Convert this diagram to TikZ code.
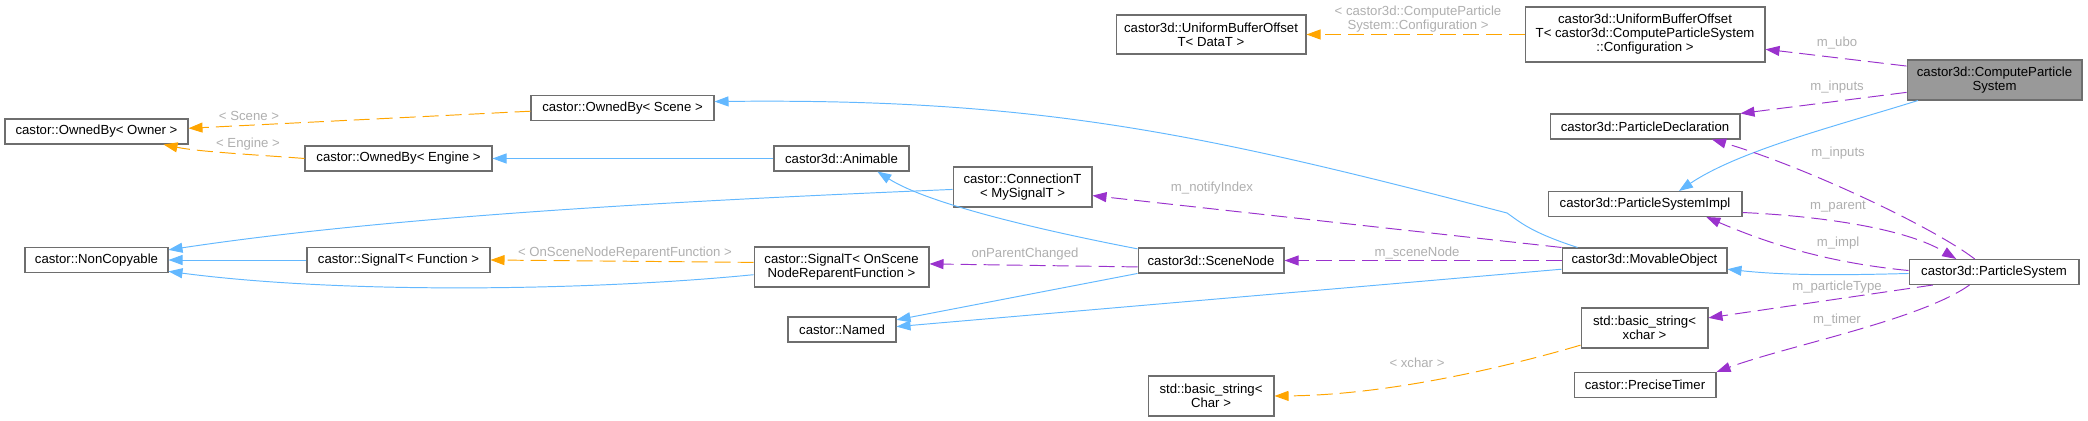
\documentclass[tikz,border=0pt]{standalone}
\usepackage{xcolor}
\usepackage{fontspec}
\setmainfont{Liberation Sans}
\usepackage{tikz}
\usetikzlibrary{arrows.meta}
\definecolor{inhblue}{RGB}{99,184,255}
\definecolor{usepurple}{RGB}{154,50,205}
\definecolor{tmplorange}{RGB}{255,165,0}
\definecolor{boxgray}{RGB}{110,110,110}
\definecolor{lblgray}{RGB}{175,175,175}
\definecolor{curfill}{RGB}{153,153,153}

\begin{document}
\begin{tikzpicture}[x=0.02cm, y=-0.02cm, font=\fontsize{7.5}{8}\selectfont,
  cls/.style={draw=boxgray, line width=0.6pt, fill=white, inner sep=0pt, minimum height=0.5cm, align=center},
  inherit/.style={draw=inhblue, line width=0.55pt, -{Triangle[length=0.28cm, width=0.2cm]}},
  member/.style={draw=usepurple, line width=0.55pt, dash pattern=on 0.32cm off 0.14cm, -{Triangle[length=0.28cm, width=0.2cm]}},
  tmpl/.style={draw=tmplorange, line width=0.55pt, dash pattern=on 0.32cm off 0.14cm, -{Triangle[length=0.28cm, width=0.2cm]}},
  edgelabel/.style={text=lblgray, inner sep=0pt, align=center}]
  \useasboundingbox (0,0) rectangle (2088,421);
  % Column 1
  \node[cls, minimum width=3.66cm] (ownOwner) at (96.5,131.5) {castor::OwnedBy< Owner >};
  \node[cls, minimum width=2.86cm] (nonCopy) at (96.5,260) {castor::NonCopyable};
  % Column 2
  \node[cls, minimum width=3.74cm] (ownEngine) at (398.5,158.5) {castor::OwnedBy< Engine >};
  \node[cls, minimum width=3.66cm] (sigFunc) at (398.5,260) {castor::SignalT< Function >};
  % Column 3
  \node[cls, minimum width=3.66cm] (ownScene) at (622.5,108) {castor::OwnedBy< Scene >};
  \node[cls, minimum width=2.7cm] (animable) at (841.5,158.5) {castor3d::Animable};
  \node[cls, minimum width=3.5cm, minimum height=0.8cm] (sigScene) at (841.5,267) {castor::SignalT< OnScene\\NodeReparentFunction >};
  \node[cls, minimum width=2.16cm] (named) at (842,329.5) {castor::Named};
  % Column 4
  \node[cls, minimum width=2.78cm, minimum height=0.8cm] (connT) at (1022.5,187) {castor::ConnectionT\\< MySignalT >};
  % Column 5
  \node[cls, minimum width=3.8cm, minimum height=0.78cm] (uboData) at (1211,34.5) {castor3d::UniformBufferOffset\\T< DataT >};
  \node[cls, minimum width=2.92cm] (sceneNode) at (1211,260.5) {castor3d::SceneNode};
  \node[cls, minimum width=2.52cm, minimum height=0.8cm] (strChar) at (1211,396) {std::basic\_string<\\Char >};
  % Column 6
  \node[cls, minimum width=4.8cm, minimum height=1.1cm] (uboConf) at (1645,34.5) {castor3d::UniformBufferOffset\\T< castor3d::ComputeParticleSystem\\::Configuration >};
  \node[cls, minimum width=3.8cm] (partDecl) at (1645,126.5) {castor3d::ParticleDeclaration};
  \node[cls, minimum width=3.88cm] (psImpl) at (1645,204) {castor3d::ParticleSystemImpl};
  \node[cls, minimum width=3.3cm] (movable) at (1644.5,260.5) {castor3d::MovableObject};
  \node[cls, minimum width=2.54cm, minimum height=0.8cm] (strX) at (1644.5,328) {std::basic\_string<\\xchar >};
  \node[cls, minimum width=2.84cm] (timer) at (1645,385) {castor::PreciseTimer};
  % Column 7
  \node[cls, fill=curfill, minimum width=3.5cm, minimum height=0.8cm] (cps) at (1994.5,80) {castor3d::ComputeParticle\\System};
  \node[cls, minimum width=3.4cm] (ps) at (1994,272) {castor3d::ParticleSystem};

  % inheritance
  \draw[inherit] (animable.west) -- (ownEngine.east);
  \draw[inherit] (sigFunc.west) -- (nonCopy.east);
  \draw[inherit] (connT.182) .. controls (700,200) and (400,215) .. (nonCopy.8.7);
  \draw[inherit] (sigScene.185) .. controls (600,290) and (350,295) .. (nonCopy.351);
  \draw[inherit] (sceneNode.171) .. controls (1050,232) and (930,205) .. (animable.340);
  \draw[inherit] (sceneNode.190) -- (named.10);
  \draw[inherit] (movable.186) -- (named.3);
  \draw[inherit] (movable.169) .. controls (1530,232) and (1520,222) .. (1507,213) .. controls (1207,135) and (1043,98) .. (ownScene.4);
  \draw[inherit] (cps.195) .. controls (1840,125) and (1740,150) .. (psImpl.21.5);
  \draw[inherit] (ps.181) .. controls (1850,275) and (1790,276) .. (movable.354);
  % templates
  \draw[tmpl] (ownScene.182) -- (ownOwner.2);
  \draw[tmpl] (ownEngine.west) .. controls (260,155) and (200,152) .. (ownOwner.349);
  \draw[tmpl] (uboConf.west) -- (uboData.east);
  \draw[tmpl] (sigScene.177) -- (sigFunc.east);
  \draw[tmpl] (strX.195) .. controls (1530,360) and (1400,395) .. (strChar.east);
  % members
  \draw[member] (cps.171) -- (uboConf.353);
  \draw[member] (cps.188) -- (partDecl.north east);
  \draw[member] (ps.146) .. controls (1930,225) and (1800,165) .. (partDecl.349);
  \draw[member] (psImpl.355) .. controls (1800,215) and (1900,225) .. (ps.161);
  \draw[member] (ps.179) .. controls (1820,262) and (1760,240) .. (psImpl.348);
  \draw[member] (ps.192) -- (strX.9);
  \draw[member] (ps.208) .. controls (1920,320) and (1790,345) .. (timer.north east);
  \draw[member] (movable.west) -- (sceneNode.east);
  \draw[member] (movable.north west) -- (connT.353);
  \draw[member] (sceneNode.185) -- (sigScene.2);

  % edge labels
  \node[edgelabel] (lConf) at (1418,19.5) {< castor3d::ComputeParticle\\System::Configuration >};
  \node[edgelabel] (lUbo) at (1837,43) {m\_ubo};
  \node[edgelabel] (lInputsA) at (1837,87) {m\_inputs};
  \node[edgelabel] (lInputsB) at (1838,153) {m\_inputs};
  \node[edgelabel] (lParent) at (1838,207) {m\_parent};
  \node[edgelabel] (lImpl) at (1838,243) {m\_impl};
  \node[edgelabel] (lType) at (1837,287) {m\_particleType};
  \node[edgelabel] (lTimer) at (1837,320) {m\_timer};
  \node[edgelabel] (lXchar) at (1417,363) {< xchar >};
  \node[edgelabel] (lSceneNode) at (1417,253) {m\_sceneNode};
  \node[edgelabel] (lNotify) at (1212,188) {m\_notifyIndex};
  \node[edgelabel] (lParentCh) at (1025,254) {onParentChanged};
  \node[edgelabel] (lReparent) at (625,253) {< OnSceneNodeReparentFunction >};
  \node[edgelabel] (lScene) at (249,116) {< Scene >};
  \node[edgelabel] (lEngine) at (248,144) {< Engine >};
\end{tikzpicture}
\end{document}
